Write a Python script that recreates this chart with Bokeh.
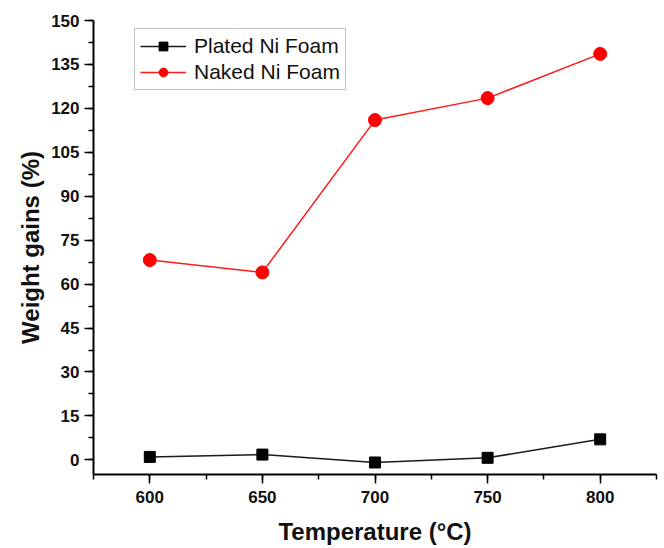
from bokeh.plotting import figure
from bokeh.models import Range1d, SingleIntervalTicker, Legend, LinearAxis
from bokeh.embed import file_html
from bokeh.resources import INLINE

temperature = [600, 650, 700, 750, 800]
plated = [1.0, 1.8, -0.9, 0.7, 7.0]
naked = [68.2, 64.0, 116.0, 123.5, 138.6]

FONT = "Liberation Sans"

p = figure(width=664, height=548, output_backend="svg", toolbar_location=None,
           x_range=Range1d(575, 825), y_range=Range1d(-5, 150),
           x_axis_type=None, y_axis_type=None,
           min_border_left=93, min_border_top=20, min_border_right=8, min_border_bottom=74)
p.outline_line_color = None
p.xgrid.visible = False
p.ygrid.visible = False

xaxis = LinearAxis(ticker=SingleIntervalTicker(interval=50, num_minor_ticks=2))
yaxis = LinearAxis(ticker=SingleIntervalTicker(interval=15, num_minor_ticks=2))
p.add_layout(xaxis, "below")
p.add_layout(yaxis, "left")

for ax in (xaxis, yaxis):
    ax.axis_line_width = 2
    ax.axis_line_color = "black"
    ax.major_tick_line_width = 1.5
    ax.minor_tick_line_width = 1.5
    ax.major_tick_in = 0
    ax.major_tick_out = 9
    ax.minor_tick_in = 0
    ax.minor_tick_out = 5
    ax.major_label_text_font = FONT
    ax.major_label_text_font_style = "bold"
    ax.major_label_text_font_size = "17px"
    ax.major_label_text_color = "#111111"
    ax.axis_label_text_font = FONT
    ax.axis_label_text_font_style = "bold"
    ax.axis_label_text_font_size = "24px"
    ax.axis_label_text_color = "#111111"

xaxis.axis_label = "Temperature (°C)"
yaxis.axis_label = "Weight gains (%)"
xaxis.major_label_standoff = 7
yaxis.major_label_standoff = 5
xaxis.axis_label_standoff = 12
yaxis.axis_label_standoff = 4

l1 = p.line(temperature, plated, line_color="#1a1a1a", line_width=1.5)
s1 = p.scatter(temperature, plated, marker="square", size=11, fill_color="black", line_color="black")
l2 = p.line(temperature, naked, line_color="#ff1a1a", line_width=1.5)
s2 = p.scatter(temperature, naked, marker="circle", size=13, fill_color="#ff0000", line_color="#ff0000")

legend = Legend(items=[("Plated Ni Foam", [l1, s1]), ("Naked Ni Foam", [l2, s2])],
                location=(41, 384))
legend.label_text_font = FONT
legend.label_text_font_size = "21px"
legend.label_text_color = "#111111"
legend.glyph_width = 46
legend.glyph_height = 22
legend.label_height = 22
legend.label_standoff = 8
legend.spacing = 2
legend.padding = 5
legend.margin = 0
legend.border_line_color = "#888888"
legend.border_line_width = 1.5
legend.background_fill_alpha = 1
p.add_layout(legend, "center")

open("out.html", "w").write(file_html(p, INLINE))
